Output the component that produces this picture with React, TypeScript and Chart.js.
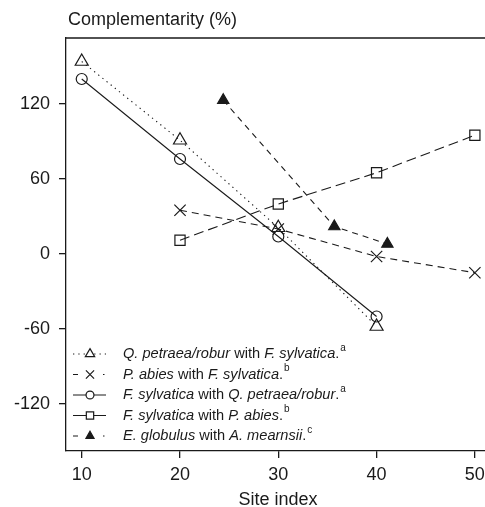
import React, { useEffect, useRef } from "react";
import { Chart, registerables } from "chart.js";
import { drawPoint } from "chart.js/helpers";

Chart.register(...registerables);

// ---- data ----
const siteIndexTicks = [10, 20, 30, 40, 50];
const complementarityTicks = [-120, -60, 0, 60, 120];

const qPetraeaX = [10, 20, 30, 40];
const qPetraeaY = [154, 91, 21, -58];

const pAbiesX = [20, 30, 40, 50];
const pAbiesY = [35, 20, -2, -15];

const fSylvQX = [10, 20, 30, 40];
const fSylvQY = [140, 76, 14, -50];

const fSylvPX = [20, 30, 40, 50];
const fSylvPY = [11, 40, 65, 95];

const eGlobX = [24.4, 35.7, 41.1];
const eGlobY = [123, 22, 8];

const yTitle = "Complementarity (%)";
const xTitle = "Site index";

type Seg = { t: string; i: boolean };
const legendLabels: Seg[][] = [
  [{ t: "Q. petraea/robur", i: true }, { t: " with ", i: false }, { t: "F. sylvatica", i: true }, { t: ".", i: false }],
  [{ t: "P. abies", i: true }, { t: " with ", i: false }, { t: "F. sylvatica", i: true }, { t: ".", i: false }],
  [{ t: "F. sylvatica", i: true }, { t: " with ", i: false }, { t: "Q. petraea/robur", i: true }, { t: ".", i: false }],
  [{ t: "F. sylvatica", i: true }, { t: " with ", i: false }, { t: "P. abies", i: true }, { t: ".", i: false }],
  [{ t: "E. globulus", i: true }, { t: " with ", i: false }, { t: "A. mearnsii", i: true }, { t: ".", i: false }],
];
const legendSups = ["a", "b", "a", "b", "c"];

const INK = "#1a1a1a";
const FONT = "'Liberation Sans', Arial, Helvetica, sans-serif";

const toPts = (xs: number[], ys: number[]) => xs.map((x, i) => ({ x, y: ys[i] }));

type Style = {
  dash: number[];
  pointStyle: string;
  radius: number;
  fill: string;
  legendDash: number[];
};

const styles: Style[] = [
  { dash: [1.3, 4], pointStyle: "triangle", radius: 7.5, fill: "rgba(0,0,0,0)", legendDash: [1.3, 4] },
  { dash: [7, 5], pointStyle: "crossRot", radius: 8, fill: "rgba(0,0,0,0)", legendDash: [5, 25, 1.5, 10] },
  { dash: [], pointStyle: "circle", radius: 5.5, fill: "rgba(0,0,0,0)", legendDash: [] },
  { dash: [10, 5], pointStyle: "rect", radius: 7.2, fill: "rgba(0,0,0,0)", legendDash: [] },
  { dash: [6, 5], pointStyle: "triangle", radius: 6.5, fill: INK, legendDash: [5, 25, 1.5, 10] },
];

const seriesData = [
  toPts(qPetraeaX, qPetraeaY),
  toPts(pAbiesX, pAbiesY),
  toPts(fSylvQX, fSylvQY),
  toPts(fSylvPX, fSylvPY),
  toPts(eGlobX, eGlobY),
];

const decorPlugin = {
  id: "decor",
  afterDraw(chart: any) {
    const ctx: CanvasRenderingContext2D = chart.ctx;
    const area = chart.chartArea;
    ctx.save();
    // top border
    ctx.strokeStyle = INK;
    ctx.lineWidth = 1.3;
    ctx.setLineDash([]);
    ctx.beginPath();
    ctx.moveTo(area.left, area.top);
    ctx.lineTo(area.right, area.top);
    ctx.lineTo(area.right, area.bottom);
    ctx.stroke();

    // titles
    ctx.fillStyle = INK;
    ctx.font = `18px ${FONT}`;
    ctx.textBaseline = "alphabetic";
    ctx.textAlign = "left";
    ctx.fillText(yTitle, 68, 25);
    ctx.textAlign = "center";
    ctx.fillText(xTitle, 278, 505);

    // legend
    const top = 354;
    const step = 20.5;
    legendLabels.forEach((segs, i) => {
      const y = top + i * step;
      const st = styles[i];
      ctx.strokeStyle = INK;
      ctx.lineWidth = 1;
      ctx.setLineDash(st.legendDash);
      ctx.beginPath();
      ctx.moveTo(73, y);
      ctx.lineTo(106, y);
      ctx.stroke();
      ctx.setLineDash([]);
      ctx.fillStyle = st.fill === INK ? INK : "#ffffff";
      ctx.lineWidth = 1.2;
      drawPoint(ctx, { pointStyle: st.pointStyle, radius: st.radius * 0.72, rotation: 0, borderWidth: 1.2 } as any, 90, y);

      let x = 123;
      ctx.fillStyle = INK;
      ctx.textAlign = "left";
      ctx.textBaseline = "middle";
      segs.forEach((s) => {
        ctx.font = `${s.i ? "italic " : ""}14.6px ${FONT}`;
        ctx.fillText(s.t, x, y);
        x += ctx.measureText(s.t).width;
      });
      ctx.font = `10px ${FONT}`;
      ctx.fillText(legendSups[i], x + 1, y - 6);
    });
    ctx.restore();
  },
};

export default function App() {
  const ref = useRef<HTMLCanvasElement | null>(null);

  useEffect(() => {
    if (!ref.current) return;
    const chart = new Chart(ref.current, {
      type: "line",
      data: {
        datasets: seriesData.map((pts, i) => ({
          label: `s${i}`,
          data: pts,
          borderColor: INK,
          borderWidth: 1.1,
          borderDash: styles[i].dash,
          pointStyle: styles[i].pointStyle as any,
          pointRadius: styles[i].radius,
          pointBorderWidth: 1.2,
          pointBorderColor: INK,
          pointBackgroundColor: styles[i].fill,
          fill: false,
          tension: 0,
        })),
      },
      options: {
        animation: false,
        responsive: false,
        events: [],
        layout: { autoPadding: false, padding: { top: 38, right: 2, left: 0, bottom: 0 } },
        plugins: { legend: { display: false }, tooltip: { enabled: false }, title: { display: false } },
        scales: {
          x: {
            type: "linear",
            min: 8.4,
            max: 51.54,
            afterBuildTicks: (s: any) => {
              s.ticks = siteIndexTicks.map((v) => ({ value: v }));
            },
            afterFit: (s: any) => {
              s.height = 56;
              s.paddingLeft = 0;
              s.paddingRight = 0;
            },
            ticks: {
              autoSkip: false,
              maxRotation: 0,
              padding: 6,
              color: INK,
              font: { size: 18, family: FONT },
              callback: (v: any) => String(v),
            },
            grid: { drawOnChartArea: false, drawTicks: true, tickLength: 7, color: INK, lineWidth: 1.3 },
            border: { display: true, color: INK, width: 1.3 },
          },
          y: {
            type: "linear",
            min: -157.6,
            max: 172.8,
            afterBuildTicks: (s: any) => {
              s.ticks = complementarityTicks.map((v) => ({ value: v }));
            },
            afterFit: (s: any) => {
              s.width = 66;
              s.paddingTop = 0;
              s.paddingBottom = 0;
            },
            ticks: {
              padding: 9,
              color: INK,
              font: { size: 18, family: FONT },
              callback: (v: any) => (v < 0 ? "-" + Math.abs(v) : String(v)),
            },
            grid: { drawOnChartArea: false, drawTicks: true, tickLength: 7, color: INK, lineWidth: 1.3 },
            border: { display: true, color: INK, width: 1.3 },
          },
        },
      },
      plugins: [decorPlugin],
    });
    return () => chart.destroy();
  }, []);

  return (
    <div style={{ position: "fixed", left: 0, top: 0, width: 485, height: 507, overflow: "hidden", background: "#fff" }}>
      <canvas ref={ref} width={492} height={507} style={{ display: "block" }} />
    </div>
  );
}
